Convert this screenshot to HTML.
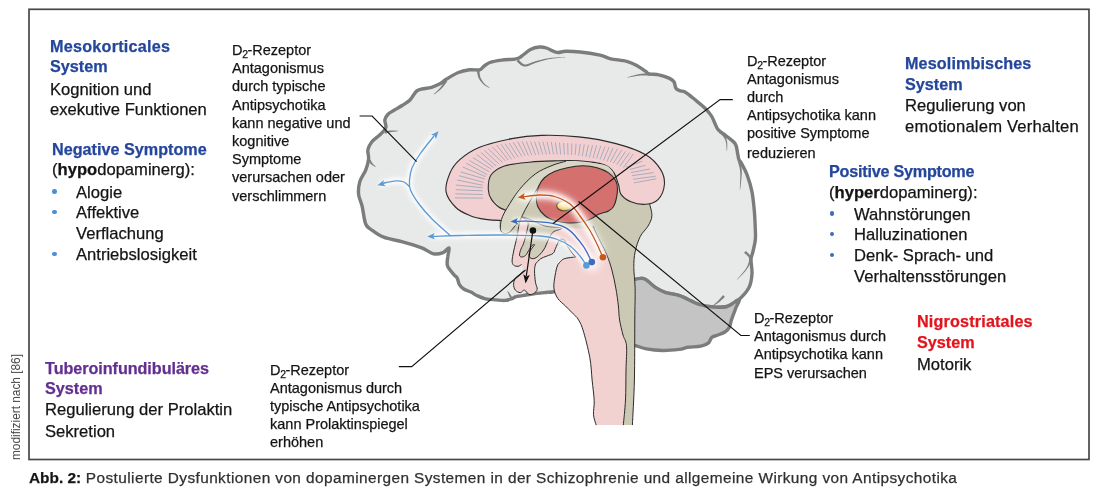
<!DOCTYPE html>
<html><head><meta charset="utf-8"><style>
html,body{margin:0;padding:0;background:#fff;}
body{width:1100px;height:504px;position:relative;overflow:hidden;font-family:"Liberation Sans", sans-serif;}
.t{position:absolute;white-space:nowrap;will-change:transform;-webkit-text-stroke:0.25px currentColor;}
.t sub{font-size:0.72em;line-height:0;vertical-align:-2.6px;margin-left:-0.3px;margin-right:-0.6px;}
.dot{position:absolute;border-radius:50%;}
svg{position:absolute;left:0;top:0;}
</style></head><body>
<svg width="1100" height="504" viewBox="0 0 1100 504">
<rect x="29" y="9.3" width="1060" height="450.2" fill="none" stroke="#484848" stroke-width="1.7"/>
<path d="M371.7,230.0 C368.7,227.8 367.3,228.0 365.7,224.0 C364.1,220.0 363.3,211.1 362.1,206.2 C360.9,201.2 359.0,198.4 358.6,194.3 C358.2,190.2 358.6,185.8 359.8,181.7 C361.0,177.6 364.3,173.6 365.8,169.8 C367.3,166.0 368.2,162.4 368.6,159.0 C369.0,155.6 367.3,152.5 367.9,149.6 C368.4,146.7 369.9,144.2 371.9,141.7 C373.9,139.2 377.6,137.0 379.9,134.7 C382.2,132.4 385.0,130.3 385.8,127.8 C386.6,125.3 384.5,122.1 384.8,119.9 C385.1,117.7 386.3,116.1 387.8,114.5 C389.3,112.9 391.6,111.8 394.0,110.3 C396.4,108.8 399.8,107.0 402.5,105.3 C405.2,103.6 407.8,102.2 410.0,100.0 C412.2,97.8 414.0,93.8 415.7,92.0 C417.4,90.2 417.4,90.3 420.0,89.5 C422.6,88.7 428.2,88.3 431.6,87.3 C435.0,86.3 438.0,84.9 440.4,83.6 C442.8,82.3 443.3,81.1 446.2,79.3 C449.1,77.5 453.9,74.3 457.8,72.7 C461.7,71.1 465.9,70.3 469.5,69.8 C473.1,69.3 477.2,70.4 479.6,69.8 C482.0,69.2 482.3,67.4 484.0,66.2 C485.7,65.0 486.9,63.5 489.8,62.5 C492.7,61.5 497.1,60.7 501.5,60.1 C505.9,59.5 512.6,59.6 516.0,58.9 C519.4,58.2 519.4,57.6 521.8,56.0 C524.2,54.4 527.6,51.0 530.5,49.5 C533.4,48.0 536.6,47.2 539.3,47.0 C542.0,46.8 543.6,47.1 546.5,48.0 C549.4,48.9 553.5,51.9 556.7,52.4 C559.9,52.9 561.6,51.4 565.5,51.3 C569.4,51.2 574.2,51.4 580.0,52.0 C585.8,52.6 594.9,54.1 600.0,55.2 C605.1,56.3 606.2,57.7 610.7,58.8 C615.2,59.8 622.3,60.2 626.8,61.4 C631.3,62.6 634.4,64.3 637.5,65.9 C640.6,67.5 643.6,69.9 645.5,71.2 C647.4,72.6 646.9,73.3 649.1,73.9 C651.3,74.5 655.5,74.0 658.9,74.8 C662.3,75.5 667.1,77.2 669.6,78.4 C672.1,79.6 673.1,80.4 674.1,82.0 C675.1,83.6 674.9,86.7 675.9,88.2 C676.9,89.7 678.9,90.3 680.4,90.9 C681.9,91.5 682.6,90.6 685.0,92.0 C687.4,93.4 691.2,96.6 694.5,99.3 C697.8,102.0 701.9,105.1 704.8,108.0 C707.7,110.9 709.7,113.0 711.8,116.5 C713.9,120.0 715.3,125.8 717.6,129.0 C719.9,132.2 722.8,133.0 725.7,135.5 C728.6,138.0 733.2,140.8 735.2,143.8 C737.2,146.8 737.0,150.7 737.6,153.3 C738.2,155.9 738.2,157.7 738.8,159.3 C739.4,160.9 739.8,160.3 741.2,162.9 C742.6,165.5 745.3,170.1 747.1,174.8 C748.9,179.6 750.7,185.5 751.9,191.4 C753.1,197.3 753.7,204.2 754.3,210.5 C754.9,216.8 755.1,224.1 755.3,229.0 C755.5,233.9 755.7,236.2 755.3,240.0 C754.9,243.8 753.6,248.6 752.9,251.9 C752.2,255.2 751.1,256.2 751.0,259.8 C750.9,263.4 752.3,269.1 752.0,273.7 C751.7,278.3 751.2,283.3 749.0,287.6 C746.8,291.9 742.6,296.4 739.0,299.5 C735.4,302.6 731.4,305.2 727.1,306.5 C722.8,307.8 717.9,307.3 713.3,307.0 C708.7,306.7 705.0,306.4 699.4,304.5 C693.8,302.6 685.1,297.6 679.5,295.6 C673.9,293.6 669.6,293.9 665.6,292.6 C661.6,291.3 659.3,289.9 655.7,287.6 C652.1,285.3 647.1,280.0 643.8,278.7 C640.5,277.4 643.2,278.5 635.9,279.7 C628.6,280.9 613.6,284.0 600.0,286.0 C586.4,288.0 562.9,290.6 554.2,291.7 C545.5,292.8 550.6,292.0 547.7,292.3 C544.8,292.6 540.4,292.9 536.8,293.4 C533.2,293.8 529.3,294.5 525.9,295.0 C522.5,295.5 518.5,296.0 516.1,296.6 C513.7,297.2 513.5,298.2 511.7,298.8 C509.9,299.4 507.8,300.2 505.2,300.4 C502.6,300.6 499.7,300.2 496.4,299.9 C493.1,299.6 488.8,299.5 485.5,298.8 C482.2,298.1 479.2,296.6 476.8,295.5 C474.4,294.4 473.6,293.4 471.4,292.3 C469.2,291.2 465.7,290.3 463.7,289.0 C461.7,287.7 460.5,286.4 459.4,284.6 C458.3,282.8 458.1,279.8 457.2,278.1 C456.3,276.4 455.4,276.6 453.8,274.5 C452.2,272.4 448.5,268.8 447.5,265.7 C446.5,262.6 447.6,259.2 447.9,256.2 C448.1,253.2 449.8,248.5 449.0,247.9 C448.2,247.3 445.7,251.6 443.1,252.6 C440.5,253.6 437.2,254.6 433.6,253.8 C430.0,253.0 426.9,249.9 421.7,247.9 C416.5,245.9 409.0,243.7 402.6,241.9 C396.2,240.1 388.8,239.1 383.6,237.1 C378.5,235.1 374.7,232.2 371.7,230.0 Z" fill="#e8e9e9" stroke="#7b7c7c" stroke-width="3.4" stroke-linejoin="round"/>
<path d="M633.0,279.7 C634.8,279.5 640.0,277.4 643.8,278.7 C647.6,280.0 652.1,285.3 655.7,287.6 C659.3,289.9 661.6,291.3 665.6,292.6 C669.6,293.9 673.9,293.6 679.5,295.6 C685.1,297.6 693.8,302.6 699.4,304.5 C705.0,306.4 708.7,306.7 713.3,307.0 C717.9,307.3 722.8,307.8 727.1,306.5 C731.4,305.2 737.5,299.3 739.0,299.5 C740.5,299.7 736.8,305.2 736.0,307.5 C735.2,309.8 734.8,310.9 734.0,313.0 C733.2,315.1 732.2,317.6 731.4,320.0 C730.6,322.4 730.3,325.6 729.2,327.6 C728.1,329.6 726.9,330.7 724.9,332.0 C722.9,333.3 719.4,334.4 717.2,335.3 C715.0,336.2 713.2,336.1 711.8,337.4 C710.3,338.7 710.3,341.4 708.5,342.9 C706.7,344.4 704.4,345.5 700.9,346.2 C697.4,346.9 691.4,346.8 687.8,347.3 C684.2,347.8 683.3,348.9 679.1,349.4 C674.9,349.9 668.2,350.6 662.7,350.5 C657.2,350.4 650.9,349.7 646.4,348.9 C641.9,348.1 637.7,346.2 635.5,345.6 C633.3,345.0 633.4,345.1 633.0,345.0 Z" fill="#c4c4c4" stroke="#7b7c7c" stroke-width="3.4" stroke-linejoin="round"/>
<path d="M489.6,179.7 C490.2,178.0 490.9,172.4 493.5,169.8 C496.1,167.2 500.4,165.4 505.4,163.9 C510.4,162.4 517.0,161.6 523.3,160.9 C529.6,160.2 535.8,159.9 543.1,159.9 C550.4,159.9 559.1,160.7 566.9,160.9 C574.7,161.1 583.9,160.4 590.0,161.0 C596.1,161.6 599.7,162.8 603.6,164.6 C607.5,166.4 611.0,168.8 613.5,172.1 C616.0,175.4 617.2,180.8 618.5,184.5 C619.8,188.2 619.5,192.2 621.0,194.4 C622.5,196.6 624.2,196.3 627.4,197.7 C630.6,199.1 636.6,202.0 640.3,202.9 C643.9,203.8 647.4,200.8 649.3,202.9 C651.2,205.1 652.1,211.9 651.9,215.8 C651.7,219.7 649.9,222.7 648.0,226.1 C646.1,229.5 642.4,232.1 640.3,236.4 C638.1,240.7 636.2,246.7 635.1,251.9 C634.0,257.1 633.8,261.4 633.8,267.4 C633.8,273.4 634.9,279.2 635.1,288.0 C635.3,296.8 634.9,304.7 634.8,320.0 C634.7,335.3 634.8,362.5 634.4,380.0 C634.0,397.5 632.7,417.6 632.4,425.1 L620.0,425.1 C618.7,404.2 616.0,329.5 612.0,300.0 C608.0,270.5 603.0,258.0 596.0,248.0 C589.0,238.0 578.0,239.3 570.0,240.0 C562.0,240.7 553.8,249.0 548.0,252.0 C542.2,255.0 539.0,258.3 535.0,258.0 C531.0,257.7 527.3,253.8 524.0,250.0 C520.7,246.2 519.0,238.5 515.0,235.0 C511.0,231.5 502.6,233.6 500.0,229.0 C497.4,224.4 500.9,212.4 499.5,207.5 C498.1,202.6 493.4,202.6 491.6,199.6 C489.8,196.6 489.1,191.3 488.6,189.7 Z" fill="#cbc9b3" stroke="none" stroke-width="1" />
<path d="M649.3,202.9 C649.7,205.1 652.1,211.9 651.9,215.8 C651.7,219.7 649.9,222.7 648.0,226.1 C646.1,229.5 642.4,232.1 640.3,236.4 C638.1,240.7 636.2,246.7 635.1,251.9 C634.0,257.1 633.8,261.4 633.8,267.4 C633.8,273.4 634.9,279.2 635.1,288.0 C635.3,296.8 634.9,304.7 634.8,320.0 C634.7,335.3 634.8,362.5 634.4,380.0 C634.0,397.5 632.7,417.6 632.4,425.1" fill="none" stroke="#2b2b2b" stroke-width="1" />
<path d="M521.5,216.0 C521.1,217.3 520.0,220.2 519.2,223.7 C518.5,227.2 517.9,232.2 517.0,236.8 C516.1,241.4 514.5,247.0 513.7,251.0 C512.9,255.0 512.1,258.5 512.1,260.9 C512.1,263.3 512.7,264.3 513.7,265.2 C514.7,266.1 516.8,266.4 518.1,266.3 C519.4,266.2 520.9,264.8 521.5,264.5 L523.7,270.7 C523.1,271.3 521.7,272.8 520.3,274.1 C518.9,275.4 516.4,276.6 515.3,278.3 C514.2,280.0 513.6,282.2 513.6,284.2 C513.6,286.2 514.2,288.7 515.3,290.1 C516.4,291.5 518.8,292.6 520.3,292.6 C521.8,292.6 523.1,289.8 524.5,290.1 C525.9,290.4 527.2,293.7 528.8,294.3 C530.3,294.9 532.4,294.3 533.8,293.5 C535.2,292.7 536.9,291.1 537.2,289.3 C537.5,287.5 536.0,285.6 535.5,282.5 C535.0,279.4 534.5,273.8 534.5,270.7 C534.5,267.6 535.3,265.0 535.5,263.9 L535.5,263.9 C536.4,263.0 538.8,260.0 540.7,258.7 C542.6,257.4 544.8,257.0 546.8,256.1 C548.8,255.2 551.5,254.7 553.0,253.4 C554.5,252.1 554.7,250.1 555.6,248.2 C556.5,246.3 557.4,243.6 558.2,242.1 C559.0,240.6 559.5,239.7 560.5,239.3 C561.5,238.9 563.4,239.3 564.3,239.9 C565.2,240.5 565.3,241.6 566.0,243.0 C566.7,244.4 567.4,246.2 568.7,248.2 C570.0,250.2 572.7,253.8 573.9,255.2 C575.1,256.6 575.4,256.6 575.7,256.9 L575.7,256.9 C573.8,257.2 566.9,257.8 564.3,258.7 C561.7,259.6 561.2,261.0 560.0,262.2 C558.8,263.4 558.1,263.9 557.3,266.0 C556.5,268.1 555.8,271.4 555.2,275.1 C554.6,278.8 553.5,284.1 553.9,288.0 C554.3,291.9 555.8,295.3 557.7,298.3 C559.6,301.3 562.9,303.4 565.5,306.0 C568.1,308.6 571.1,311.6 573.2,313.8 C575.3,316.0 576.4,316.3 578.0,319.0 C579.6,321.7 581.0,323.6 583.0,330.0 C585.0,336.4 588.3,349.2 589.8,357.5 C591.3,365.8 591.4,372.8 592.1,380.0 C592.8,387.2 594.0,395.0 594.2,400.8 C594.4,406.6 593.2,410.6 593.5,414.7 C593.8,418.8 595.8,423.4 596.2,425.1 L623.3,425.1 C623.7,420.9 625.0,409.2 625.5,400.0 C626.0,390.8 625.8,379.1 626.0,370.0 C626.2,360.9 627.0,351.4 626.5,345.6 C626.0,339.8 624.1,339.3 623.0,335.0 C621.9,330.7 620.4,324.8 619.6,320.0 C618.8,315.2 619.0,311.3 618.4,306.0 C617.8,300.7 616.9,294.0 615.8,288.0 C614.7,282.0 613.4,275.6 611.9,270.0 C610.4,264.4 608.5,259.0 606.7,254.5 C604.9,250.0 603.0,246.6 601.0,243.0 C599.0,239.4 597.7,235.3 595.0,233.0 C592.3,230.7 589.2,229.8 585.0,229.0 C580.8,228.2 573.9,228.2 570.0,228.0 C566.1,227.8 565.9,228.4 561.7,228.1 C557.5,227.8 550.3,227.5 545.0,226.0 C539.7,224.5 532.5,220.2 530.0,219.0 Z" fill="#f2d1d1"/>
<path d="M521.5,216.0 C521.1,217.3 520.0,220.2 519.2,223.7 C518.5,227.2 517.9,232.2 517.0,236.8 C516.1,241.4 514.5,247.0 513.7,251.0 C512.9,255.0 512.1,258.5 512.1,260.9 C512.1,263.3 512.7,264.3 513.7,265.2 C514.7,266.1 516.8,266.4 518.1,266.3 C519.4,266.2 520.9,264.8 521.5,264.5" fill="none" stroke="#2b2b2b" stroke-width="1" />
<path d="M523.7,270.7 C523.1,271.3 521.7,272.8 520.3,274.1 C518.9,275.4 516.4,276.6 515.3,278.3 C514.2,280.0 513.6,282.2 513.6,284.2 C513.6,286.2 514.2,288.7 515.3,290.1 C516.4,291.5 518.8,292.6 520.3,292.6 C521.8,292.6 523.1,289.8 524.5,290.1 C525.9,290.4 527.2,293.7 528.8,294.3 C530.3,294.9 532.4,294.3 533.8,293.5 C535.2,292.7 536.9,291.1 537.2,289.3 C537.5,287.5 536.0,285.6 535.5,282.5 C535.0,279.4 534.5,273.8 534.5,270.7 C534.5,267.6 535.3,265.0 535.5,263.9" fill="none" stroke="#2b2b2b" stroke-width="1" />
<path d="M535.5,263.9 C536.4,263.0 538.8,260.0 540.7,258.7 C542.6,257.4 544.8,257.0 546.8,256.1 C548.8,255.2 551.5,254.7 553.0,253.4 C554.5,252.1 554.7,250.1 555.6,248.2 C556.5,246.3 557.4,243.6 558.2,242.1 C559.0,240.6 559.5,239.7 560.5,239.3 C561.5,238.9 563.4,239.3 564.3,239.9 C565.2,240.5 565.3,241.6 566.0,243.0 C566.7,244.4 567.4,246.2 568.7,248.2 C570.0,250.2 572.7,253.8 573.9,255.2 C575.1,256.6 575.4,256.6 575.7,256.9" fill="none" stroke="#2b2b2b" stroke-width="1" />
<path d="M575.7,256.9 C573.8,257.2 566.9,257.8 564.3,258.7 C561.7,259.6 561.2,261.0 560.0,262.2 C558.8,263.4 558.1,263.9 557.3,266.0 C556.5,268.1 555.8,271.4 555.2,275.1 C554.6,278.8 553.5,284.1 553.9,288.0 C554.3,291.9 555.8,295.3 557.7,298.3 C559.6,301.3 562.9,303.4 565.5,306.0 C568.1,308.6 571.1,311.6 573.2,313.8 C575.3,316.0 576.4,316.3 578.0,319.0 C579.6,321.7 581.0,323.6 583.0,330.0 C585.0,336.4 588.3,349.2 589.8,357.5 C591.3,365.8 591.4,372.8 592.1,380.0 C592.8,387.2 594.0,395.0 594.2,400.8 C594.4,406.6 593.2,410.6 593.5,414.7 C593.8,418.8 595.8,423.4 596.2,425.1" fill="none" stroke="#2b2b2b" stroke-width="1" />
<path d="M593.0,226.0 C593.6,227.3 595.2,231.2 596.5,234.0 C597.8,236.8 599.3,239.6 601.0,243.0 C602.7,246.4 604.9,250.0 606.7,254.5 C608.5,259.0 610.4,264.4 611.9,270.0 C613.4,275.6 614.7,282.0 615.8,288.0 C616.9,294.0 617.8,300.7 618.4,306.0 C619.0,311.3 618.8,315.2 619.6,320.0 C620.4,324.8 621.9,330.7 623.0,335.0 C624.1,339.3 626.0,339.8 626.5,345.6 C627.0,351.4 626.2,360.9 626.0,370.0 C625.8,379.1 626.0,390.8 625.5,400.0 C625.0,409.2 623.7,420.9 623.3,425.1" fill="none" stroke="#2b2b2b" stroke-width="1" />
<path d="M522.0,217.0 C522.3,216.6 526.2,218.0 530.0,219.5 C533.8,221.0 539.7,224.6 545.0,226.0 C550.3,227.4 560.2,227.2 561.7,228.1 C563.2,229.0 555.7,230.3 553.8,231.6 C551.9,232.9 551.3,234.4 550.3,236.0 C549.3,237.6 548.6,239.3 547.7,241.2 C546.8,243.1 546.1,245.4 545.1,247.3 C544.1,249.2 542.9,251.0 541.6,252.6 C540.3,254.2 538.7,255.9 537.2,256.9 C535.8,257.9 534.2,258.7 532.9,258.7 C531.6,258.7 530.0,257.9 529.4,256.9 C528.8,255.9 529.0,254.0 529.4,252.6 C529.8,251.2 531.1,249.5 532.0,248.2 C532.9,246.9 534.6,245.1 534.6,244.7 C534.6,244.3 533.0,244.6 532.0,245.6 C531.0,246.6 529.6,249.2 528.5,250.8 C527.4,252.5 526.7,254.5 525.5,255.5 C524.3,256.5 522.5,257.1 521.5,257.0 C520.5,256.9 519.6,256.3 519.5,255.0 C519.4,253.7 520.3,250.9 521.0,249.0 C521.7,247.1 522.6,246.3 523.6,243.4 C524.6,240.5 526.1,235.0 526.8,231.4 C527.5,227.8 528.8,224.4 528.0,222.0 C527.2,219.6 521.7,217.4 522.0,217.0 Z" fill="#cfcdb9" stroke="#2b2b2b" stroke-width="1" />
<path d="M446.1,191.9 C445.1,186.2 447.7,178.4 450.0,173.0 C452.3,167.6 454.9,164.0 459.8,159.7 C464.7,155.4 470.9,150.8 479.6,147.3 C488.3,143.8 501.5,140.6 511.8,138.6 C522.1,136.6 530.4,135.7 541.6,135.4 C552.8,135.1 566.4,135.5 578.8,136.9 C591.2,138.3 604.8,140.6 616.0,143.6 C627.2,146.6 638.3,150.4 645.8,154.7 C653.2,159.0 657.6,164.6 660.7,169.6 C663.8,174.6 664.8,179.5 664.4,184.5 C664.0,189.5 661.3,196.1 658.2,199.4 C655.1,202.7 650.3,203.9 645.8,204.3 C641.2,204.7 635.0,203.5 630.9,201.8 C626.8,200.2 623.1,197.3 621.0,194.4 C618.9,191.5 619.8,188.2 618.5,184.5 C617.2,180.8 616.0,175.4 613.5,172.1 C611.0,168.8 609.4,166.5 603.6,164.6 C597.8,162.7 587.1,161.5 578.8,160.9 C570.5,160.3 562.3,160.7 554.0,160.9 C545.7,161.1 537.5,161.4 529.2,162.2 C520.9,163.0 510.8,163.8 504.4,165.9 C498.0,168.0 493.7,171.1 491.0,175.0 C488.3,178.9 488.2,185.3 488.3,189.4 C488.4,193.5 489.7,196.6 491.6,199.6 C493.5,202.6 496.9,205.5 499.5,207.5 C502.1,209.5 506.4,209.5 507.4,211.5 C508.4,213.5 506.7,217.9 505.4,219.4 C504.1,220.9 502.8,220.4 499.5,220.4 C496.2,220.4 490.6,220.2 485.6,219.4 C480.6,218.6 474.6,217.4 469.7,215.4 C464.8,213.4 459.8,211.4 455.9,207.5 C452.0,203.6 447.1,197.7 446.1,191.9 Z" fill="#f2d0d1" stroke="#2b2b2b" stroke-width="1.1" />
<path d="M614.0,174.0 C613.7,173.2 611.0,167.9 607.0,166.0 C603.0,164.1 596.8,163.2 590.0,162.4 C583.2,161.6 572.3,160.7 566.0,161.2 C559.7,161.7 557.1,163.4 552.0,165.5 C546.9,167.6 540.7,170.0 535.2,174.0 C529.8,178.0 523.9,184.1 519.3,189.7 C514.7,195.3 510.4,202.6 507.4,207.5 C504.4,212.4 502.6,215.8 501.5,219.4 C500.4,223.0 500.2,227.0 500.5,229.3 C500.8,231.6 502.0,232.8 503.5,233.3 C505.0,233.8 507.4,233.6 509.4,232.3 C511.4,231.0 513.8,227.2 515.4,225.4 C517.0,223.6 517.6,224.1 519.3,221.4 C520.9,218.8 523.0,213.8 525.3,209.5 C527.6,205.2 530.8,199.8 533.2,195.6 C535.7,191.3 537.4,187.4 540.0,184.0 C542.6,180.6 545.3,177.6 549.0,175.0 C552.7,172.4 556.8,170.1 562.0,168.5 C567.2,166.9 574.0,165.8 580.0,165.5 C586.0,165.2 593.2,165.6 598.0,166.5 C602.8,167.4 606.3,169.8 609.0,171.0 C611.7,172.2 614.3,174.8 614.0,174.0 Z" fill="#d8d7c5" stroke="none" stroke-width="1" />
<path d="M566.0,161.2 C563.7,161.9 557.1,163.4 552.0,165.5 C546.9,167.6 540.7,170.0 535.2,174.0 C529.8,178.0 523.9,184.1 519.3,189.7 C514.7,195.3 510.4,202.6 507.4,207.5 C504.4,212.4 502.6,215.8 501.5,219.4 C500.4,223.0 500.2,227.0 500.5,229.3 C500.8,231.6 502.0,232.8 503.5,233.3 C505.0,233.8 507.4,233.6 509.4,232.3 C511.4,231.0 513.8,227.2 515.4,225.4 C517.0,223.6 517.6,224.1 519.3,221.4 C520.9,218.8 523.0,213.8 525.3,209.5 C527.6,205.2 530.8,199.8 533.2,195.6 C535.7,191.3 538.9,185.9 540.0,184.0" fill="none" stroke="#2b2b2b" stroke-width="1" />
<path d="M539.0,185.8 C540.3,182.6 541.6,180.4 544.2,178.0 C546.8,175.6 550.6,173.3 554.5,171.6 C558.4,169.9 562.7,168.7 567.4,167.7 C572.1,166.7 578.0,165.8 582.9,165.8 C587.8,165.8 592.7,166.5 597.0,167.7 C601.3,168.9 605.5,170.8 608.6,172.9 C611.7,175.1 614.2,177.8 615.7,180.6 C617.2,183.4 617.5,186.5 617.5,189.7 C617.5,192.9 616.7,197.1 616.0,200.0 C615.3,202.9 614.5,205.2 613.2,207.0 C612.0,208.8 610.2,210.0 608.5,211.0 C606.8,212.0 604.9,212.1 603.0,212.8 C601.1,213.5 598.8,214.1 597.0,215.0 C595.2,215.9 595.0,216.8 592.5,218.0 C590.0,219.2 586.2,221.2 582.1,222.0 C578.0,222.8 572.4,223.2 568.0,223.0 C563.6,222.8 559.8,222.2 556.0,221.0 C552.2,219.8 548.0,218.2 545.0,215.8 C542.0,213.4 539.1,209.5 537.7,206.4 C536.3,203.3 536.2,200.8 536.4,197.4 C536.6,194.0 537.7,189.0 539.0,185.8 Z" fill="#d4706d" stroke="#2b2b2b" stroke-width="1.1" />
<defs><radialGradient id="yg" cx="0.4" cy="0.35" r="0.7"><stop offset="0" stop-color="#fff3c4"/><stop offset="0.6" stop-color="#f7cf6a"/><stop offset="1" stop-color="#eda83a"/></radialGradient></defs>
<ellipse cx="564.2" cy="205.8" rx="7.6" ry="5" fill="url(#yg)" stroke="#5d4d38" stroke-width="1.3"/>
<path d="M445.13,79.95 L445.03,80.14 L444.91,80.35 L444.78,80.58 L444.64,80.83 L444.49,81.10 L444.32,81.38 L444.15,81.68 L443.97,82.00 L443.78,82.32 L443.59,82.66 L443.38,83.00 L443.17,83.35 L442.96,83.71 L442.74,84.07 L442.51,84.43 L442.28,84.79 L442.05,85.15 L441.82,85.51 L441.58,85.86 L441.34,86.20 L441.11,86.53 L440.87,86.86 L440.64,87.17 L440.41,87.47 L440.17,87.76 L439.91,88.07 L439.63,88.38 L439.34,88.70 L439.04,89.03 L438.72,89.35 L438.40,89.68 L438.08,90.02 L437.74,90.35 L437.41,90.68 L437.08,91.00 L436.75,91.33 L436.42,91.64 L436.10,91.95 L435.79,92.25 L435.49,92.54 L435.20,92.83 L434.93,93.10 L434.67,93.35 L434.43,93.60 L434.22,93.83 L434.02,94.04 L433.86,94.24 L433.73,94.43 L433.87,94.57 L434.07,94.47 L434.28,94.34 L434.52,94.18 L434.78,94.01 L435.06,93.81 L435.36,93.61 L435.67,93.38 L435.99,93.14 L436.33,92.90 L436.68,92.64 L437.04,92.37 L437.40,92.09 L437.77,91.80 L438.14,91.51 L438.52,91.22 L438.89,90.92 L439.26,90.62 L439.62,90.31 L439.98,90.01 L440.32,89.71 L440.66,89.41 L440.99,89.11 L441.30,88.82 L441.59,88.53 L441.88,88.24 L442.17,87.93 L442.46,87.62 L442.74,87.29 L443.03,86.96 L443.31,86.61 L443.59,86.27 L443.87,85.92 L444.14,85.57 L444.41,85.22 L444.67,84.88 L444.93,84.53 L445.18,84.20 L445.42,83.87 L445.65,83.55 L445.88,83.25 L446.10,82.95 L446.30,82.68 L446.50,82.42 L446.68,82.17 L446.85,81.96 L447.00,81.76 L447.14,81.59 L447.27,81.45 Z" fill="#7d7e7e"/>
<path d="M476.92,71.55 L476.96,71.68 L477.00,71.82 L477.04,71.99 L477.08,72.19 L477.13,72.40 L477.17,72.64 L477.22,72.89 L477.27,73.16 L477.32,73.44 L477.38,73.73 L477.44,74.04 L477.50,74.35 L477.57,74.66 L477.64,74.99 L477.72,75.31 L477.80,75.64 L477.89,75.97 L477.98,76.30 L478.08,76.63 L478.19,76.96 L478.31,77.28 L478.43,77.60 L478.57,77.90 L478.71,78.20 L478.86,78.48 L479.01,78.76 L479.17,79.04 L479.34,79.32 L479.51,79.60 L479.69,79.87 L479.88,80.15 L480.07,80.43 L480.26,80.70 L480.46,80.98 L480.67,81.25 L480.88,81.52 L481.09,81.79 L481.30,82.05 L481.52,82.31 L481.74,82.57 L481.97,82.82 L482.19,83.06 L482.42,83.31 L482.65,83.54 L482.88,83.77 L483.11,84.00 L483.34,84.22 L483.57,84.43 L483.82,84.64 L484.07,84.85 L484.34,85.06 L484.62,85.26 L484.90,85.46 L485.19,85.65 L485.48,85.84 L485.78,86.03 L486.08,86.21 L486.37,86.39 L486.67,86.56 L486.97,86.72 L487.25,86.88 L487.54,87.03 L487.82,87.17 L488.08,87.31 L488.34,87.44 L488.59,87.56 L488.82,87.68 L489.04,87.78 L489.24,87.88 L489.42,87.96 L489.59,88.03 L489.74,88.08 L489.86,87.92 L489.75,87.79 L489.61,87.67 L489.45,87.54 L489.27,87.40 L489.07,87.25 L488.86,87.10 L488.64,86.94 L488.41,86.78 L488.16,86.60 L487.91,86.43 L487.65,86.24 L487.38,86.05 L487.12,85.86 L486.85,85.66 L486.58,85.46 L486.31,85.26 L486.05,85.05 L485.79,84.84 L485.53,84.63 L485.29,84.42 L485.05,84.21 L484.83,83.99 L484.62,83.78 L484.43,83.57 L484.23,83.35 L484.04,83.12 L483.85,82.89 L483.65,82.65 L483.46,82.41 L483.27,82.16 L483.08,81.91 L482.89,81.65 L482.71,81.39 L482.53,81.13 L482.35,80.86 L482.17,80.59 L482.00,80.32 L481.84,80.05 L481.67,79.78 L481.52,79.51 L481.36,79.24 L481.22,78.97 L481.08,78.70 L480.95,78.43 L480.82,78.17 L480.70,77.91 L480.59,77.65 L480.49,77.40 L480.40,77.16 L480.31,76.90 L480.24,76.64 L480.16,76.36 L480.09,76.07 L480.03,75.78 L479.97,75.49 L479.92,75.19 L479.87,74.88 L479.83,74.58 L479.79,74.28 L479.75,73.98 L479.72,73.68 L479.69,73.39 L479.66,73.11 L479.63,72.83 L479.61,72.57 L479.59,72.31 L479.57,72.07 L479.55,71.84 L479.53,71.62 L479.52,71.41 L479.49,71.21 L479.48,71.05 Z" fill="#7d7e7e"/>
<path d="M516.71,61.43 L516.84,61.52 L516.97,61.62 L517.14,61.77 L517.34,61.95 L517.56,62.16 L517.80,62.39 L518.06,62.64 L518.33,62.90 L518.62,63.18 L518.92,63.47 L519.24,63.76 L519.58,64.06 L519.92,64.35 L520.28,64.64 L520.66,64.92 L521.04,65.19 L521.44,65.45 L521.85,65.69 L522.28,65.91 L522.72,66.11 L523.18,66.28 L523.65,66.41 L524.13,66.50 L524.62,66.55 L525.10,66.56 L525.58,66.53 L526.07,66.47 L526.55,66.39 L527.03,66.28 L527.52,66.15 L528.01,65.99 L528.50,65.83 L529.00,65.65 L529.49,65.45 L529.99,65.25 L530.50,65.04 L531.00,64.82 L531.51,64.60 L532.02,64.37 L532.53,64.15 L533.04,63.93 L533.56,63.71 L534.07,63.49 L534.58,63.28 L535.09,63.09 L535.60,62.90 L536.11,62.73 L536.62,62.57 L537.14,62.41 L537.67,62.25 L538.20,62.09 L538.74,61.93 L539.28,61.76 L539.82,61.60 L540.36,61.44 L540.91,61.28 L541.46,61.11 L542.01,60.95 L542.57,60.79 L543.13,60.63 L543.69,60.48 L544.25,60.33 L544.82,60.18 L545.39,60.03 L545.97,59.88 L546.54,59.74 L547.13,59.61 L547.71,59.47 L548.30,59.35 L548.89,59.23 L549.48,59.11 L550.08,59.00 L550.69,58.89 L551.34,58.79 L552.01,58.69 L552.70,58.60 L553.42,58.51 L554.14,58.42 L554.89,58.34 L555.63,58.26 L556.38,58.19 L557.14,58.11 L557.88,58.04 L558.62,57.98 L559.35,57.91 L560.06,57.85 L560.76,57.79 L561.43,57.73 L562.07,57.68 L562.68,57.62 L563.26,57.57 L563.80,57.52 L564.30,57.46 L564.76,57.41 L565.16,57.36 L565.51,57.30 L565.49,57.10 L565.14,57.10 L564.73,57.10 L564.28,57.11 L563.78,57.12 L563.24,57.13 L562.66,57.15 L562.04,57.17 L561.39,57.19 L560.72,57.22 L560.02,57.25 L559.31,57.28 L558.58,57.31 L557.83,57.35 L557.08,57.39 L556.32,57.43 L555.57,57.48 L554.81,57.53 L554.06,57.58 L553.33,57.64 L552.60,57.71 L551.90,57.77 L551.21,57.84 L550.55,57.92 L549.92,58.00 L549.31,58.09 L548.70,58.18 L548.10,58.28 L547.49,58.38 L546.89,58.49 L546.30,58.61 L545.71,58.72 L545.12,58.85 L544.53,58.97 L543.95,59.10 L543.37,59.23 L542.80,59.37 L542.23,59.50 L541.66,59.64 L541.10,59.78 L540.54,59.92 L539.98,60.06 L539.43,60.20 L538.88,60.34 L538.33,60.48 L537.79,60.62 L537.25,60.76 L536.72,60.90 L536.18,61.03 L535.64,61.18 L535.09,61.34 L534.54,61.52 L533.99,61.71 L533.45,61.90 L532.92,62.10 L532.38,62.30 L531.85,62.51 L531.33,62.72 L530.81,62.92 L530.30,63.12 L529.80,63.31 L529.31,63.50 L528.83,63.67 L528.35,63.83 L527.89,63.98 L527.44,64.11 L527.01,64.22 L526.59,64.32 L526.19,64.39 L525.80,64.44 L525.44,64.46 L525.10,64.47 L524.78,64.45 L524.49,64.40 L524.19,64.32 L523.89,64.22 L523.59,64.09 L523.28,63.93 L522.98,63.75 L522.67,63.55 L522.36,63.33 L522.05,63.09 L521.75,62.84 L521.45,62.58 L521.16,62.31 L520.88,62.03 L520.60,61.75 L520.33,61.47 L520.07,61.19 L519.82,60.92 L519.58,60.66 L519.35,60.40 L519.12,60.16 L518.91,59.94 L518.69,59.73 L518.48,59.53 L518.29,59.37 Z" fill="#7d7e7e"/>
<path d="M384.95,133.78 L385.09,133.73 L385.26,133.67 L385.44,133.61 L385.63,133.55 L385.84,133.49 L386.06,133.42 L386.29,133.34 L386.54,133.27 L386.79,133.19 L387.06,133.11 L387.33,133.03 L387.61,132.95 L387.89,132.87 L388.18,132.79 L388.47,132.71 L388.77,132.63 L389.06,132.56 L389.36,132.48 L389.66,132.41 L389.95,132.34 L390.24,132.27 L390.53,132.21 L390.81,132.15 L391.09,132.09 L391.37,132.04 L391.66,131.99 L391.98,131.94 L392.30,131.90 L392.64,131.85 L392.98,131.81 L393.33,131.77 L393.68,131.73 L394.04,131.69 L394.40,131.65 L394.75,131.61 L395.11,131.58 L395.45,131.54 L395.80,131.51 L396.13,131.47 L396.45,131.44 L396.76,131.40 L397.05,131.37 L397.33,131.33 L397.59,131.29 L397.83,131.25 L398.04,131.21 L398.24,131.16 L398.40,131.10 L398.40,130.90 L398.23,130.85 L398.03,130.81 L397.82,130.78 L397.58,130.75 L397.32,130.73 L397.04,130.70 L396.74,130.67 L396.43,130.65 L396.11,130.63 L395.78,130.61 L395.43,130.59 L395.08,130.57 L394.72,130.56 L394.36,130.54 L394.00,130.53 L393.63,130.52 L393.27,130.51 L392.91,130.50 L392.56,130.49 L392.21,130.49 L391.87,130.49 L391.54,130.49 L391.22,130.50 L390.91,130.51 L390.61,130.52 L390.30,130.54 L389.99,130.56 L389.67,130.59 L389.36,130.62 L389.04,130.65 L388.72,130.68 L388.40,130.72 L388.09,130.76 L387.78,130.80 L387.47,130.84 L387.17,130.88 L386.88,130.92 L386.59,130.97 L386.31,131.00 L386.05,131.04 L385.79,131.08 L385.55,131.11 L385.32,131.14 L385.11,131.17 L384.92,131.19 L384.74,131.21 L384.59,131.22 L384.45,131.22 Z" fill="#7d7e7e"/>
<path d="M368.43,161.24 L368.50,161.30 L368.57,161.37 L368.64,161.45 L368.73,161.55 L368.82,161.66 L368.93,161.78 L369.03,161.91 L369.14,162.04 L369.26,162.19 L369.38,162.34 L369.51,162.49 L369.64,162.65 L369.77,162.82 L369.91,162.98 L370.05,163.15 L370.19,163.31 L370.34,163.48 L370.49,163.64 L370.64,163.81 L370.79,163.97 L370.95,164.12 L371.11,164.27 L371.27,164.42 L371.43,164.55 L371.59,164.69 L371.77,164.82 L371.94,164.95 L372.13,165.08 L372.32,165.21 L372.51,165.34 L372.71,165.47 L372.91,165.60 L373.11,165.72 L373.31,165.84 L373.51,165.96 L373.71,166.07 L373.90,166.18 L374.10,166.29 L374.28,166.39 L374.47,166.49 L374.64,166.58 L374.81,166.66 L374.97,166.74 L375.13,166.81 L375.27,166.87 L375.40,166.92 L375.52,166.96 L375.64,166.98 L375.76,166.82 L375.71,166.71 L375.64,166.60 L375.54,166.49 L375.44,166.37 L375.33,166.25 L375.20,166.12 L375.07,165.99 L374.93,165.85 L374.78,165.71 L374.62,165.56 L374.47,165.42 L374.31,165.26 L374.14,165.11 L373.98,164.95 L373.82,164.80 L373.66,164.64 L373.50,164.48 L373.34,164.33 L373.19,164.17 L373.05,164.02 L372.92,163.87 L372.79,163.72 L372.68,163.58 L372.57,163.45 L372.47,163.31 L372.38,163.16 L372.28,163.01 L372.18,162.86 L372.08,162.69 L371.98,162.53 L371.88,162.36 L371.78,162.18 L371.68,162.01 L371.58,161.83 L371.49,161.66 L371.40,161.48 L371.31,161.31 L371.23,161.14 L371.14,160.98 L371.06,160.82 L370.99,160.66 L370.92,160.51 L370.85,160.36 L370.78,160.23 L370.72,160.10 L370.67,159.97 L370.61,159.86 L370.57,159.76 Z" fill="#7d7e7e"/>
<path d="M650.97,73.20 L650.74,73.22 L650.47,73.25 L650.17,73.27 L649.84,73.28 L649.47,73.30 L649.08,73.32 L648.67,73.33 L648.23,73.35 L647.78,73.37 L647.30,73.38 L646.81,73.40 L646.31,73.42 L645.79,73.45 L645.27,73.47 L644.73,73.50 L644.20,73.54 L643.65,73.58 L643.11,73.62 L642.56,73.67 L642.02,73.72 L641.48,73.78 L640.94,73.85 L640.42,73.93 L639.90,74.01 L639.38,74.10 L638.83,74.21 L638.26,74.32 L637.68,74.45 L637.07,74.58 L636.46,74.73 L635.84,74.87 L635.21,75.03 L634.58,75.19 L633.95,75.35 L633.32,75.51 L632.70,75.68 L632.09,75.84 L631.50,76.01 L630.92,76.17 L630.36,76.33 L629.82,76.48 L629.31,76.63 L628.83,76.78 L628.38,76.92 L627.96,77.05 L627.59,77.17 L627.26,77.28 L626.98,77.40 L627.02,77.60 L627.33,77.59 L627.68,77.56 L628.07,77.50 L628.50,77.44 L628.96,77.37 L629.46,77.28 L629.98,77.19 L630.53,77.09 L631.11,76.99 L631.70,76.88 L632.30,76.77 L632.92,76.66 L633.55,76.55 L634.18,76.43 L634.82,76.32 L635.46,76.22 L636.09,76.11 L636.71,76.01 L637.32,75.92 L637.92,75.84 L638.50,75.76 L639.06,75.69 L639.59,75.63 L640.10,75.59 L640.59,75.56 L641.10,75.53 L641.61,75.51 L642.13,75.49 L642.66,75.48 L643.19,75.48 L643.72,75.48 L644.25,75.48 L644.77,75.49 L645.30,75.51 L645.81,75.52 L646.32,75.54 L646.81,75.56 L647.29,75.58 L647.76,75.60 L648.21,75.63 L648.64,75.65 L649.06,75.68 L649.45,75.70 L649.82,75.73 L650.16,75.75 L650.48,75.77 L650.77,75.79 L651.03,75.80 Z" fill="#7d7e7e"/>
<path d="M737.72,161.25 L737.79,161.50 L737.88,161.79 L737.97,162.09 L738.07,162.41 L738.17,162.75 L738.29,163.11 L738.40,163.49 L738.52,163.88 L738.65,164.29 L738.78,164.72 L738.90,165.17 L739.03,165.63 L739.16,166.10 L739.28,166.59 L739.41,167.09 L739.52,167.60 L739.64,168.13 L739.74,168.66 L739.84,169.20 L739.94,169.76 L740.02,170.31 L740.09,170.88 L740.15,171.45 L740.20,172.03 L740.24,172.64 L740.27,173.30 L740.28,174.00 L740.29,174.75 L740.29,175.53 L740.28,176.34 L740.27,177.17 L740.25,178.03 L740.22,178.89 L740.19,179.76 L740.16,180.63 L740.12,181.50 L740.09,182.36 L740.05,183.21 L740.01,184.03 L739.98,184.83 L739.95,185.60 L739.92,186.34 L739.89,187.03 L739.87,187.68 L739.86,188.27 L739.86,188.81 L739.87,189.29 L739.90,189.69 L740.10,189.71 L740.18,189.31 L740.26,188.84 L740.33,188.31 L740.41,187.72 L740.50,187.08 L740.58,186.39 L740.67,185.66 L740.76,184.89 L740.85,184.10 L740.95,183.27 L741.04,182.43 L741.13,181.57 L741.22,180.71 L741.30,179.83 L741.38,178.96 L741.46,178.09 L741.53,177.24 L741.59,176.40 L741.65,175.58 L741.70,174.79 L741.74,174.02 L741.77,173.30 L741.79,172.61 L741.80,171.97 L741.79,171.36 L741.77,170.75 L741.74,170.14 L741.70,169.55 L741.64,168.96 L741.58,168.38 L741.51,167.81 L741.44,167.26 L741.36,166.71 L741.27,166.18 L741.18,165.66 L741.09,165.16 L741.00,164.67 L740.91,164.20 L740.82,163.75 L740.74,163.32 L740.65,162.91 L740.57,162.53 L740.50,162.16 L740.44,161.82 L740.38,161.51 L740.34,161.23 L740.30,160.98 L740.28,160.75 Z" fill="#7d7e7e"/>
<path d="M744.03,252.76 L744.18,252.92 L744.38,253.10 L744.59,253.28 L744.81,253.46 L745.05,253.64 L745.29,253.83 L745.55,254.03 L745.81,254.24 L746.08,254.46 L746.35,254.68 L746.63,254.91 L746.90,255.15 L747.16,255.39 L747.42,255.63 L747.67,255.89 L747.90,256.14 L748.12,256.39 L748.32,256.65 L748.50,256.91 L748.66,257.16 L748.79,257.41 L748.90,257.65 L748.98,257.89 L749.04,258.13 L749.08,258.41 L749.11,258.72 L749.13,259.04 L749.13,259.37 L749.12,259.72 L749.10,260.08 L749.06,260.45 L749.01,260.82 L748.95,261.21 L748.87,261.60 L748.78,262.01 L748.68,262.42 L748.56,262.84 L748.43,263.26 L748.29,263.69 L748.13,264.12 L747.97,264.56 L747.79,265.00 L747.60,265.44 L747.40,265.89 L747.18,266.34 L746.96,266.79 L746.73,267.24 L746.48,267.69 L746.21,268.14 L745.91,268.63 L745.57,269.13 L745.19,269.66 L744.79,270.20 L744.37,270.76 L743.92,271.33 L743.46,271.90 L742.98,272.48 L742.50,273.06 L742.01,273.64 L741.52,274.21 L741.03,274.78 L740.55,275.33 L740.08,275.87 L739.62,276.39 L739.18,276.89 L738.76,277.37 L738.37,277.83 L738.01,278.26 L737.67,278.65 L737.38,279.01 L737.13,279.34 L736.92,279.63 L737.08,279.77 L737.34,279.53 L737.63,279.24 L737.97,278.92 L738.33,278.56 L738.73,278.17 L739.16,277.74 L739.61,277.29 L740.08,276.82 L740.57,276.32 L741.07,275.81 L741.59,275.28 L742.10,274.74 L742.63,274.19 L743.15,273.63 L743.66,273.07 L744.17,272.51 L744.67,271.95 L745.15,271.40 L745.61,270.85 L746.05,270.31 L746.47,269.79 L746.85,269.28 L747.20,268.79 L747.52,268.31 L747.81,267.86 L748.08,267.40 L748.34,266.95 L748.60,266.49 L748.84,266.04 L749.07,265.58 L749.29,265.13 L749.50,264.67 L749.69,264.22 L749.87,263.77 L750.04,263.33 L750.20,262.88 L750.34,262.44 L750.47,262.00 L750.59,261.57 L750.69,261.14 L750.78,260.72 L750.86,260.29 L750.92,259.88 L750.96,259.47 L750.99,259.06 L751.00,258.66 L750.99,258.27 L750.96,257.87 L750.90,257.45 L750.80,257.02 L750.66,256.61 L750.49,256.22 L750.29,255.83 L750.07,255.46 L749.83,255.11 L749.58,254.76 L749.32,254.43 L749.04,254.11 L748.76,253.80 L748.48,253.50 L748.20,253.22 L747.91,252.94 L747.64,252.68 L747.37,252.43 L747.12,252.20 L746.88,251.98 L746.66,251.77 L746.46,251.58 L746.29,251.41 L746.15,251.27 L746.05,251.15 L745.97,251.04 Z" fill="#7d7e7e"/>
<path d="M723.08,295.08 L722.95,295.24 L722.80,295.42 L722.64,295.62 L722.46,295.83 L722.26,296.07 L722.05,296.32 L721.82,296.58 L721.59,296.86 L721.34,297.14 L721.08,297.44 L720.82,297.74 L720.55,298.04 L720.28,298.35 L720.01,298.66 L719.73,298.97 L719.46,299.27 L719.19,299.58 L718.92,299.87 L718.66,300.16 L718.40,300.43 L718.15,300.70 L717.92,300.95 L717.69,301.18 L717.48,301.40 L717.27,301.60 L717.06,301.81 L716.84,302.01 L716.62,302.21 L716.40,302.41 L716.18,302.60 L715.95,302.80 L715.73,302.98 L715.50,303.17 L715.28,303.35 L715.06,303.53 L714.85,303.70 L714.64,303.87 L714.43,304.04 L714.24,304.20 L714.05,304.35 L713.87,304.50 L713.70,304.65 L713.54,304.79 L713.39,304.92 L713.25,305.05 L713.13,305.17 L713.02,305.29 L712.94,305.42 L713.06,305.58 L713.20,305.55 L713.35,305.50 L713.51,305.44 L713.68,305.38 L713.86,305.30 L714.05,305.21 L714.26,305.12 L714.47,305.02 L714.69,304.91 L714.92,304.79 L715.16,304.67 L715.40,304.55 L715.65,304.41 L715.90,304.27 L716.16,304.13 L716.42,303.98 L716.68,303.82 L716.95,303.66 L717.21,303.50 L717.48,303.33 L717.74,303.15 L718.00,302.97 L718.26,302.79 L718.52,302.60 L718.78,302.40 L719.05,302.19 L719.33,301.96 L719.62,301.72 L719.92,301.46 L720.22,301.20 L720.53,300.93 L720.84,300.65 L721.15,300.37 L721.46,300.09 L721.77,299.80 L722.07,299.52 L722.37,299.24 L722.67,298.96 L722.95,298.70 L723.23,298.44 L723.50,298.19 L723.75,297.95 L723.99,297.73 L724.22,297.53 L724.42,297.34 L724.61,297.18 L724.78,297.04 L724.92,296.92 Z" fill="#7d7e7e"/>
<path d="M512.86,298.21 L512.79,298.12 L512.72,298.02 L512.64,297.90 L512.55,297.77 L512.45,297.63 L512.35,297.48 L512.25,297.31 L512.14,297.14 L512.03,296.96 L511.91,296.78 L511.79,296.59 L511.67,296.39 L511.54,296.19 L511.42,295.99 L511.29,295.79 L511.17,295.59 L511.04,295.39 L510.91,295.19 L510.79,295.00 L510.67,294.81 L510.55,294.63 L510.43,294.45 L510.31,294.28 L510.20,294.12 L510.09,293.97 L509.98,293.81 L509.86,293.65 L509.75,293.49 L509.63,293.33 L509.51,293.16 L509.39,293.00 L509.27,292.84 L509.15,292.69 L509.03,292.53 L508.92,292.38 L508.80,292.23 L508.68,292.08 L508.57,291.94 L508.46,291.81 L508.35,291.68 L508.25,291.56 L508.14,291.44 L508.04,291.33 L507.95,291.24 L507.86,291.15 L507.77,291.07 L507.68,291.00 L507.59,290.95 L507.41,291.05 L507.41,291.16 L507.42,291.27 L507.45,291.38 L507.48,291.51 L507.52,291.64 L507.57,291.78 L507.62,291.92 L507.67,292.08 L507.73,292.23 L507.79,292.40 L507.86,292.56 L507.93,292.73 L508.00,292.91 L508.07,293.09 L508.14,293.26 L508.22,293.45 L508.29,293.63 L508.37,293.81 L508.44,293.99 L508.52,294.17 L508.59,294.35 L508.66,294.53 L508.73,294.71 L508.80,294.88 L508.87,295.05 L508.94,295.24 L509.02,295.43 L509.09,295.63 L509.18,295.84 L509.26,296.05 L509.35,296.26 L509.43,296.48 L509.52,296.69 L509.61,296.91 L509.70,297.13 L509.78,297.35 L509.87,297.56 L509.95,297.77 L510.03,297.97 L510.10,298.17 L510.18,298.36 L510.25,298.54 L510.31,298.71 L510.37,298.87 L510.42,299.02 L510.47,299.16 L510.51,299.28 L510.54,299.39 Z" fill="#7d7e7e"/>
<path d="M718.91,132.84 L719.02,132.94 L719.16,133.05 L719.31,133.16 L719.47,133.27 L719.63,133.40 L719.81,133.53 L719.99,133.66 L720.18,133.81 L720.38,133.95 L720.58,134.11 L720.78,134.26 L720.99,134.43 L721.19,134.60 L721.40,134.77 L721.61,134.94 L721.81,135.12 L722.01,135.30 L722.21,135.48 L722.39,135.66 L722.57,135.84 L722.74,136.02 L722.90,136.19 L723.05,136.37 L723.19,136.54 L723.33,136.73 L723.48,136.93 L723.62,137.13 L723.75,137.32 L723.89,137.52 L724.02,137.73 L724.15,137.93 L724.28,138.14 L724.40,138.35 L724.52,138.57 L724.64,138.79 L724.76,139.01 L724.87,139.24 L724.98,139.47 L725.09,139.71 L725.19,139.95 L725.29,140.20 L725.39,140.45 L725.48,140.71 L725.58,140.98 L725.66,141.25 L725.75,141.53 L725.83,141.82 L725.90,142.11 L725.97,142.42 L726.04,142.75 L726.10,143.10 L726.16,143.48 L726.21,143.87 L726.25,144.28 L726.30,144.70 L726.34,145.13 L726.37,145.57 L726.40,146.01 L726.43,146.44 L726.46,146.88 L726.49,147.31 L726.51,147.74 L726.54,148.15 L726.56,148.56 L726.58,148.94 L726.61,149.31 L726.63,149.66 L726.66,149.99 L726.69,150.29 L726.72,150.56 L726.75,150.80 L726.80,151.00 L727.00,151.00 L727.03,150.79 L727.06,150.55 L727.08,150.28 L727.10,149.98 L727.13,149.66 L727.15,149.31 L727.17,148.94 L727.19,148.55 L727.21,148.15 L727.22,147.73 L727.24,147.30 L727.25,146.87 L727.26,146.43 L727.27,145.98 L727.27,145.53 L727.27,145.09 L727.27,144.65 L727.26,144.22 L727.25,143.79 L727.23,143.38 L727.21,142.98 L727.18,142.60 L727.14,142.23 L727.10,141.89 L727.05,141.56 L726.99,141.25 L726.94,140.93 L726.87,140.63 L726.81,140.33 L726.73,140.04 L726.66,139.75 L726.58,139.46 L726.49,139.19 L726.41,138.91 L726.31,138.64 L726.22,138.38 L726.12,138.11 L726.01,137.86 L725.91,137.60 L725.80,137.35 L725.68,137.11 L725.57,136.86 L725.45,136.62 L725.33,136.39 L725.20,136.15 L725.07,135.92 L724.94,135.69 L724.81,135.46 L724.65,135.21 L724.49,134.96 L724.31,134.72 L724.13,134.48 L723.93,134.25 L723.74,134.02 L723.53,133.79 L723.33,133.56 L723.12,133.35 L722.91,133.13 L722.71,132.92 L722.50,132.72 L722.30,132.53 L722.10,132.34 L721.91,132.15 L721.72,131.98 L721.55,131.81 L721.38,131.66 L721.23,131.51 L721.09,131.37 L720.96,131.25 L720.85,131.14 L720.77,131.04 L720.69,130.96 Z" fill="#7d7e7e"/>
<path d="M455.0,197.9L483.0,198.1M455.3,193.8L482.9,194.5M455.6,189.7L482.7,190.8M455.9,185.0L482.6,187.8M457.1,180.0L482.8,185.3M458.9,175.7L483.8,182.4M460.6,171.9L484.8,179.0M462.7,167.0L485.6,176.7M466.4,163.2L487.3,174.8M469.5,160.6L489.4,171.9M472.8,157.6L491.5,169.3M476.6,154.5L493.5,167.5M480.8,152.3L496.2,166.1M484.5,150.5L499.3,164.3M488.3,148.8L502.5,162.5M492.3,146.8L505.4,160.9M496.6,145.0L508.3,160.1M501.0,144.2L511.5,159.4M505.1,143.6L515.0,158.4M509.2,143.0L518.4,157.4M513.3,142.3L521.9,156.5M517.7,141.6L525.1,155.8M522.1,141.3L528.4,155.6M526.4,141.4L531.9,155.4M530.5,141.5L535.6,155.1M534.6,141.6L539.2,154.9M538.8,141.6L542.8,154.7M542.9,141.7L546.4,154.5M547.1,141.7L549.9,154.4M551.3,142.0L553.5,154.4M555.4,142.4L557.1,154.4M559.5,142.6L560.7,154.5M563.6,142.9L564.4,154.6M567.7,143.1L568.0,154.7M571.9,143.4L571.6,154.8M576.1,143.6L575.2,155.0M580.2,144.0L578.7,155.6M584.3,144.4L582.3,156.2M588.4,144.8L585.9,156.8M592.5,145.1L589.5,157.4M596.6,145.4L593.0,158.1M600.8,145.9L596.5,158.7M605.0,146.6L600.0,159.5M609.1,147.2L603.5,160.3M613.2,147.8L607.0,161.3M617.5,148.6L610.3,162.0M621.7,150.0L613.4,163.2M625.6,151.3L616.7,164.7M629.5,152.6L620.0,166.1M633.4,153.9L623.4,167.5M625.8,167.4L642.3,161.2M629.9,169.5L645.4,165.3M631.0,172.6L650.0,169.0M632.0,175.7L653.7,172.6M633.0,179.3L655.7,176.2M634.0,182.9L656.2,178.8" fill="none" stroke="#95a2b8" stroke-width="0.8" />
<defs><filter id="gl" x="-20%" y="-20%" width="140%" height="140%"><feGaussianBlur stdDeviation="2.2"/></filter><filter id="gl2" x="-50%" y="-50%" width="200%" height="200%"><feGaussianBlur stdDeviation="3.5"/></filter></defs>
<g filter="url(#gl2)" opacity="0.6"><path d="M600.0,250.0 C599.3,248.7 597.8,245.5 596.0,242.0 C594.2,238.5 591.7,233.3 589.0,229.0 C586.3,224.7 583.2,220.2 580.0,216.0 C576.8,211.8 574.2,207.2 570.0,204.0 C565.8,200.8 559.7,198.0 554.5,196.5 C549.3,195.0 544.2,194.9 539.0,195.0 C533.8,195.1 525.7,196.7 523.0,197.0" fill="none" stroke="#ffffff" stroke-width="9" stroke-linecap="round"/><circle cx="592" cy="263" r="9" fill="#fff"/></g>
<g filter="url(#gl)" opacity="0.95"><path d="M586.4,265.4 C585.3,263.8 582.7,259.2 580.0,256.0 C577.3,252.8 574.0,248.8 570.0,246.0 C566.0,243.2 561.0,240.7 556.0,239.0 C551.0,237.3 549.3,236.7 540.0,236.0 C530.7,235.3 513.3,235.1 500.0,235.0 C486.7,234.9 471.2,235.3 460.0,235.5 C448.8,235.7 437.5,236.2 433.0,236.3M450.0,235.3 C447.0,232.6 437.2,224.2 432.0,219.0 C426.8,213.8 422.6,208.8 419.0,204.0 C415.4,199.2 412.1,194.0 410.5,190.0 C408.9,186.0 409.2,183.7 409.5,180.0 C409.8,176.3 410.2,172.3 412.0,168.0 C413.8,163.7 416.3,159.3 420.0,154.0 C423.7,148.7 431.7,139.0 434.0,136.0M409.8,187.0 C408.8,186.2 406.3,183.0 404.0,182.0 C401.7,181.0 399.0,180.7 396.0,180.8 C393.0,180.9 388.3,182.0 386.0,182.5 C383.7,183.0 382.7,183.8 382.0,184.0M591.8,262.1 C590.3,259.4 586.8,251.1 582.9,245.7 C579.0,240.3 573.7,233.3 568.6,229.6 C563.5,225.9 559.6,224.8 552.5,223.4 C545.4,222.0 531.8,221.4 525.7,221.1 C519.6,220.8 517.6,221.4 516.0,221.5M602.9,257.3 C601.8,254.8 598.3,246.7 596.0,242.0 C593.7,237.3 591.7,233.3 589.0,229.0 C586.3,224.7 583.2,220.2 580.0,216.0 C576.8,211.8 574.2,207.2 570.0,204.0 C565.8,200.8 559.7,198.0 554.5,196.5 C549.3,195.0 544.2,194.9 539.0,195.0 C533.8,195.1 525.7,196.7 523.0,197.0" fill="none" stroke="#ffffff" stroke-width="6" stroke-linecap="round"/></g>
<path d="M586.4,265.4 C585.3,263.8 582.7,259.2 580.0,256.0 C577.3,252.8 574.0,248.8 570.0,246.0 C566.0,243.2 561.0,240.7 556.0,239.0 C551.0,237.3 549.3,236.7 540.0,236.0 C530.7,235.3 513.3,235.1 500.0,235.0 C486.7,234.9 471.2,235.3 460.0,235.5 C448.8,235.7 437.5,236.2 433.0,236.3" fill="none" stroke="#5b9bd5" stroke-width="1.3" />
<path d="M450.0,235.3 C447.0,232.6 437.2,224.2 432.0,219.0 C426.8,213.8 422.6,208.8 419.0,204.0 C415.4,199.2 412.1,194.0 410.5,190.0 C408.9,186.0 409.2,183.7 409.5,180.0 C409.8,176.3 410.2,172.3 412.0,168.0 C413.8,163.7 416.3,159.3 420.0,154.0 C423.7,148.7 431.7,139.0 434.0,136.0" fill="none" stroke="#5b9bd5" stroke-width="1.3" />
<path d="M409.8,187.0 C408.8,186.2 406.3,183.0 404.0,182.0 C401.7,181.0 399.0,180.7 396.0,180.8 C393.0,180.9 388.3,182.0 386.0,182.5 C383.7,183.0 382.7,183.8 382.0,184.0" fill="none" stroke="#5b9bd5" stroke-width="1.3" />
<path d="M591.8,262.1 C590.3,259.4 586.8,251.1 582.9,245.7 C579.0,240.3 573.7,233.3 568.6,229.6 C563.5,225.9 559.6,224.8 552.5,223.4 C545.4,222.0 531.8,221.4 525.7,221.1 C519.6,220.8 517.6,221.4 516.0,221.5" fill="none" stroke="#3c6bc0" stroke-width="1.3" />
<path d="M602.9,257.3 C601.8,254.8 598.3,246.7 596.0,242.0 C593.7,237.3 591.7,233.3 589.0,229.0 C586.3,224.7 583.2,220.2 580.0,216.0 C576.8,211.8 574.2,207.2 570.0,204.0 C565.8,200.8 559.7,198.0 554.5,196.5 C549.3,195.0 544.2,194.9 539.0,195.0 C533.8,195.1 525.7,196.7 523.0,197.0" fill="none" stroke="#c8581a" stroke-width="1.3" />
<path d="M427.3,236.4 L434.7,232.9 L433.1,236.2 L434.9,239.5 Z" fill="#5b9bd5"/>
<path d="M438.5,131.3 L436.0,139.1 L434.6,135.7 L431.1,134.8 Z" fill="#5b9bd5"/>
<path d="M377.5,185.2 L383.8,180.0 L383.1,183.6 L385.6,186.3 Z" fill="#5b9bd5"/>
<path d="M510.5,221.6 L517.8,218.0 L516.3,221.3 L518.1,224.6 Z" fill="#3c6bc0"/>
<path d="M517.7,197.4 L524.7,193.1 L523.5,196.6 L525.6,199.7 Z" fill="#c8581a"/>
<path d="M532.9,230.5 L526.3,276" fill="none" stroke="#111" stroke-width="1.2" />
<path d="M525.6,283.5 L523.3,274.2 L526.3,276.5 L529.8,274.9 Z" fill="#111"/>
<circle cx="586.4" cy="265.4" r="3.3" fill="#5b9bd5"/>
<circle cx="591.8" cy="262.1" r="3.3" fill="#3c6bc0"/>
<circle cx="602.9" cy="257.3" r="3.3" fill="#c8581a"/>
<circle cx="532.9" cy="230.5" r="3.3" fill="#111"/>
<polyline points="359.6,116.0 372.1,116.0 416.6,161.6" fill="none" stroke="#111" stroke-width="1.15"/>
<polyline points="398.8,366.6 411.7,366.6 525.5,270.0" fill="none" stroke="#111" stroke-width="1.15"/>
<polyline points="732.8,99.6 720.1,99.6 553.0,223.5" fill="none" stroke="#111" stroke-width="1.15"/>
<polyline points="749.8,335.5 740.9,335.5 578.5,201.5" fill="none" stroke="#111" stroke-width="1.15"/>
</svg>
<div class="t" style="left:50.00px;top:38px;font-size:16.20px;line-height:16.20px;color:#24469b;font-weight:bold;letter-spacing:0.23px;">Mesokorticales</div>
<div class="t" style="left:50.00px;top:58px;font-size:16.20px;line-height:16.20px;color:#24469b;font-weight:bold;">System</div>
<div class="t" style="left:50.00px;top:82px;font-size:16.60px;line-height:16.60px;color:#141414;">Kognition und</div>
<div class="t" style="left:50.00px;top:102px;font-size:16.60px;line-height:16.60px;color:#141414;">exekutive Funktionen</div>
<div class="t" style="left:51.50px;top:141px;font-size:16.20px;line-height:16.20px;color:#24469b;font-weight:bold;">Negative Symptome</div>
<div class="t" style="left:51.50px;top:162px;font-size:16.60px;line-height:16.60px;color:#141414;">(<b>hypo</b>dopaminerg):</div>
<div class="t" style="left:76.30px;top:185px;font-size:16.60px;line-height:16.60px;color:#141414;">Alogie</div>
<div class="t" style="left:76.30px;top:205px;font-size:16.60px;line-height:16.60px;color:#141414;">Affektive</div>
<div class="t" style="left:76.30px;top:226px;font-size:16.60px;line-height:16.60px;color:#141414;">Verflachung</div>
<div class="t" style="left:76.30px;top:247px;font-size:16.60px;line-height:16.60px;color:#141414;">Antriebslosigkeit</div>
<div class="dot" style="left:52.45px;top:189.20px;width:4.6px;height:4.6px;background:#4b8fd6"></div>
<div class="dot" style="left:52.45px;top:209.70px;width:4.6px;height:4.6px;background:#4b8fd6"></div>
<div class="dot" style="left:52.45px;top:251.60px;width:4.6px;height:4.6px;background:#4b8fd6"></div>
<div class="t" style="left:44.80px;top:360px;font-size:16.20px;line-height:16.20px;color:#632f90;font-weight:bold;letter-spacing:-0.06px;">Tuberoinfundibuläres</div>
<div class="t" style="left:44.80px;top:380px;font-size:16.20px;line-height:16.20px;color:#632f90;font-weight:bold;">System</div>
<div class="t" style="left:44.80px;top:402px;font-size:16.60px;line-height:16.60px;color:#141414;">Regulierung der Prolaktin</div>
<div class="t" style="left:44.80px;top:424px;font-size:16.60px;line-height:16.60px;color:#141414;">Sekretion</div>
<div class="t" style="left:232.00px;top:43px;font-size:14.50px;line-height:14.50px;color:#141414;">D<sub>2</sub>-Rezeptor</div>
<div class="t" style="left:232.00px;top:61px;font-size:14.50px;line-height:14.50px;color:#141414;">Antagonismus</div>
<div class="t" style="left:232.00px;top:79px;font-size:14.50px;line-height:14.50px;color:#141414;">durch typische</div>
<div class="t" style="left:232.00px;top:98px;font-size:14.50px;line-height:14.50px;color:#141414;">Antipsychotika</div>
<div class="t" style="left:232.00px;top:116px;font-size:14.50px;line-height:14.50px;color:#141414;">kann negative und</div>
<div class="t" style="left:232.00px;top:134px;font-size:14.50px;line-height:14.50px;color:#141414;">kognitive</div>
<div class="t" style="left:232.00px;top:152px;font-size:14.50px;line-height:14.50px;color:#141414;">Symptome</div>
<div class="t" style="left:232.00px;top:170px;font-size:14.50px;line-height:14.50px;color:#141414;">verursachen oder</div>
<div class="t" style="left:232.00px;top:189px;font-size:14.50px;line-height:14.50px;color:#141414;">verschlimmern</div>
<div class="t" style="left:269.60px;top:363px;font-size:14.50px;line-height:14.50px;color:#141414;">D<sub>2</sub>-Rezeptor</div>
<div class="t" style="left:269.60px;top:381px;font-size:14.50px;line-height:14.50px;color:#141414;">Antagonismus durch</div>
<div class="t" style="left:269.60px;top:399px;font-size:14.50px;line-height:14.50px;color:#141414;">typische Antipsychotika</div>
<div class="t" style="left:269.60px;top:417px;font-size:14.50px;line-height:14.50px;color:#141414;">kann Prolaktinspiegel</div>
<div class="t" style="left:269.60px;top:435px;font-size:14.50px;line-height:14.50px;color:#141414;">erhöhen</div>
<div class="t" style="left:747.30px;top:54px;font-size:14.50px;line-height:14.50px;color:#141414;">D<sub>2</sub>-Rezeptor</div>
<div class="t" style="left:747.30px;top:72px;font-size:14.50px;line-height:14.50px;color:#141414;">Antagonismus</div>
<div class="t" style="left:747.30px;top:90px;font-size:14.50px;line-height:14.50px;color:#141414;">durch</div>
<div class="t" style="left:747.30px;top:108px;font-size:14.50px;line-height:14.50px;color:#141414;">Antipsychotika kann</div>
<div class="t" style="left:747.30px;top:126px;font-size:14.50px;line-height:14.50px;color:#141414;">positive Symptome</div>
<div class="t" style="left:747.30px;top:146px;font-size:14.50px;line-height:14.50px;color:#141414;">reduzieren</div>
<div class="t" style="left:753.90px;top:311px;font-size:14.50px;line-height:14.50px;color:#141414;">D<sub>2</sub>-Rezeptor</div>
<div class="t" style="left:753.90px;top:329px;font-size:14.50px;line-height:14.50px;color:#141414;">Antagonismus durch</div>
<div class="t" style="left:753.90px;top:347px;font-size:14.50px;line-height:14.50px;color:#141414;">Antipsychotika kann</div>
<div class="t" style="left:753.90px;top:366px;font-size:14.50px;line-height:14.50px;color:#141414;">EPS verursachen</div>
<div class="t" style="left:905.20px;top:55px;font-size:16.20px;line-height:16.20px;color:#24469b;font-weight:bold;letter-spacing:0.10px;">Mesolimbisches</div>
<div class="t" style="left:905.20px;top:76px;font-size:16.20px;line-height:16.20px;color:#24469b;font-weight:bold;">System</div>
<div class="t" style="left:905.20px;top:98px;font-size:16.60px;line-height:16.60px;color:#141414;">Regulierung von</div>
<div class="t" style="left:905.20px;top:119px;font-size:16.60px;line-height:16.60px;color:#141414;letter-spacing:0.20px;">emotionalem Verhalten</div>
<div class="t" style="left:829.00px;top:163px;font-size:16.20px;line-height:16.20px;color:#24469b;font-weight:bold;letter-spacing:-0.24px;">Positive Symptome</div>
<div class="t" style="left:829.00px;top:185px;font-size:16.60px;line-height:16.60px;color:#141414;">(<b>hyper</b>dopaminerg):</div>
<div class="t" style="left:853.80px;top:207px;font-size:16.60px;line-height:16.60px;color:#141414;">Wahnstörungen</div>
<div class="t" style="left:853.80px;top:227px;font-size:16.60px;line-height:16.60px;color:#141414;">Halluzinationen</div>
<div class="t" style="left:853.80px;top:248px;font-size:16.60px;line-height:16.60px;color:#141414;">Denk- Sprach- und</div>
<div class="t" style="left:853.80px;top:269px;font-size:16.60px;line-height:16.60px;color:#141414;">Verhaltensstörungen</div>
<div class="dot" style="left:829.60px;top:210.90px;width:4.8px;height:4.8px;background:#3b6cc3"></div>
<div class="dot" style="left:829.60px;top:231.70px;width:4.8px;height:4.8px;background:#3b6cc3"></div>
<div class="dot" style="left:829.60px;top:252.50px;width:4.8px;height:4.8px;background:#3b6cc3"></div>
<div class="t" style="left:916.60px;top:313px;font-size:16.20px;line-height:16.20px;color:#e2141c;font-weight:bold;letter-spacing:0.16px;">Nigrostriatales</div>
<div class="t" style="left:916.60px;top:334px;font-size:16.20px;line-height:16.20px;color:#e2141c;font-weight:bold;">System</div>
<div class="t" style="left:916.60px;top:357px;font-size:16.60px;line-height:16.60px;color:#141414;">Motorik</div>
<div class="t" style="left:29.00px;top:470px;font-size:15.40px;line-height:15.40px;color:#303030;letter-spacing:0.41px;"><b style="letter-spacing:0;color:#161616">Abb. 2:</b> Postulierte Dysfunktionen von dopaminergen Systemen in der Schizophrenie und allgemeine Wirkung von Antipsychotika</div>
<div class="t" style="left:10.5px;top:460.2px;font-size:11.85px;line-height:11.85px;color:#4a4a4a;-webkit-text-stroke:0;transform-origin:0 0;transform:rotate(-90deg);">modifiziert nach [86]</div>
</body></html>
